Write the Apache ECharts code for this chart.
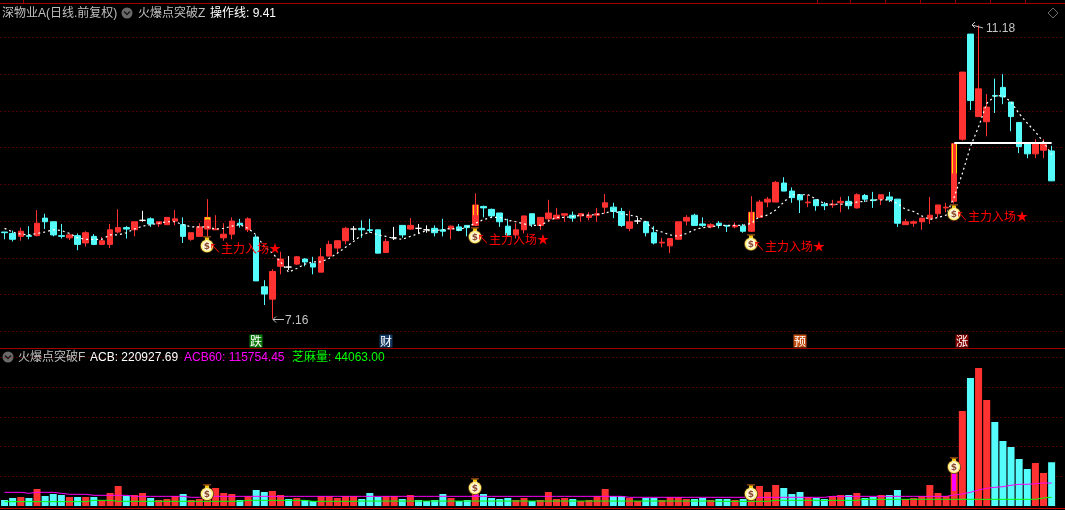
<!DOCTYPE html>
<html><head><meta charset="utf-8">
<style>html,body{margin:0;padding:0;background:#000;overflow:hidden}#c{width:1065px;height:510px}</style>
<script src="https://cdn.jsdelivr.net/npm/echarts@6/dist/echarts.min.js"></script>
</head><body><div id="c"></div>
<script>
var opens=[8.35,8.33,8.29,8.30,8.30,8.54,8.49,8.30,8.27,8.30,8.20,8.29,8.18,8.18,8.35,8.41,8.38,8.51,8.53,8.46,8.45,8.50,8.45,8.25,8.29,8.39,8.38,8.27,8.32,8.47,8.38,8.28,7.60,7.43,7.88,7.87,7.91,7.98,7.92,7.80,8.02,8.13,8.23,8.39,
8.40,8.38,8.38,8.07,8.27,8.44,8.39,8.40,8.38,8.40,8.38,8.39,8.42,8.44,8.44,8.70,8.66,8.61,8.43,8.31,8.38,8.60,8.44,8.53,8.53,8.58,8.58,8.57,8.55,8.58,8.69,8.69,8.63,8.40,8.50,8.49,8.34,8.20,8.16,8.25,8.50,8.58,8.46,
8.42,8.47,8.44,8.42,8.43,8.36,8.55,8.76,8.76,9.02,8.91,8.86,8.75,8.79,8.73,8.72,8.75,8.77,8.68,8.85,8.79,8.80,8.83,8.80,8.45,8.47,8.49,8.53,8.60,8.68,
8.77,9.62,11.06,9.93,9.86,10.22,10.33,10.13,9.85,9.56,9.42,9.47,9.46];
var closes=[8.34,8.25,8.36,8.29,8.47,8.49,8.31,8.29,8.31,8.18,8.34,8.18,8.23,8.38,8.41,8.39,8.49,8.51,8.46,8.49,8.55,8.53,8.29,8.34,8.42,8.55,8.39,8.32,8.50,8.45,8.53,7.68,7.50,7.81,7.98,7.87,8.01,7.94,7.87,8.01,8.18,8.23,8.40,8.39,
8.38,8.37,8.06,8.22,8.27,8.31,8.44,8.40,8.38,8.34,8.36,8.43,8.37,8.41,8.72,8.68,8.57,8.49,8.31,8.38,8.57,8.46,8.55,8.61,8.58,8.60,8.54,8.60,8.58,8.60,8.75,8.63,8.44,8.49,8.50,8.34,8.20,8.21,8.26,8.49,8.55,8.44,8.44,
8.45,8.44,8.43,8.44,8.36,8.62,8.76,8.80,9.03,8.91,8.82,8.79,8.76,8.71,8.71,8.73,8.77,8.71,8.86,8.80,8.78,8.86,8.79,8.47,8.49,8.49,8.54,8.58,8.72,8.69,
9.56,10.54,10.15,10.31,10.06,10.21,10.20,9.93,9.52,9.42,9.56,9.55,9.05];
var lows=[8.25,8.22,8.23,8.25,8.29,8.39,8.29,8.26,8.24,8.10,8.15,8.17,8.17,8.13,8.33,8.26,8.29,8.49,8.42,8.42,8.45,8.44,8.20,8.23,8.29,8.29,8.38,8.23,8.25,8.41,8.35,7.68,7.35,7.16,7.77,7.83,7.90,7.88,7.77,7.80,8.02,8.06,8.18,8.24,
8.27,8.34,8.06,8.07,8.24,8.27,8.38,8.33,8.34,8.29,8.29,8.25,8.36,8.29,8.43,8.55,8.54,8.42,8.30,8.26,8.33,8.42,8.38,8.49,8.53,8.49,8.49,8.49,8.51,8.49,8.60,8.54,8.42,8.36,8.46,8.29,8.18,8.14,8.06,8.25,8.44,8.44,8.42,
8.40,8.40,8.35,8.40,8.34,8.35,8.55,8.69,8.76,8.91,8.75,8.61,8.69,8.64,8.65,8.68,8.62,8.66,8.67,8.76,8.68,8.72,8.76,8.42,8.45,8.42,8.38,8.46,8.55,8.62,
8.74,9.60,10.02,9.93,9.66,9.98,10.10,9.73,9.43,9.36,9.36,9.36,9.05];
var highs=[8.35,8.37,8.41,8.43,8.65,8.60,8.49,8.46,8.33,8.33,8.36,8.32,8.28,8.46,8.66,8.43,8.49,8.64,8.55,8.49,8.55,8.65,8.55,8.34,8.47,8.80,8.58,8.47,8.55,8.53,8.55,8.31,7.69,7.84,8.08,8.02,8.02,7.99,8.01,8.13,8.23,8.24,8.42,8.43,
8.51,8.53,8.38,8.26,8.42,8.44,8.54,8.46,8.44,8.44,8.53,8.44,8.46,8.44,8.88,8.71,8.67,8.61,8.53,8.47,8.57,8.60,8.55,8.79,8.68,8.60,8.63,8.61,8.62,8.68,8.87,8.75,8.68,8.64,8.55,8.49,8.43,8.27,8.26,8.49,8.58,8.60,8.55,
8.47,8.50,8.44,8.48,8.46,8.84,8.79,8.83,9.05,9.10,8.96,8.87,8.86,8.80,8.76,8.79,8.83,8.84,8.88,8.87,8.90,8.86,8.90,8.80,8.53,8.51,8.54,8.83,8.72,8.75,
9.56,10.54,11.06,11.18,10.24,10.45,10.51,10.13,9.85,9.56,9.62,9.62,9.53];
var operLine=[8.40,8.35,8.32,8.31,8.33,8.35,8.38,8.37,8.33,8.27,8.25,8.25,8.25,8.31,8.31,8.34,8.39,8.43,8.45,8.47,8.49,8.49,8.45,8.42,8.42,8.42,8.39,8.40,8.43,8.45,8.40,8.31,8.15,8.06,7.94,7.80,7.85,7.91,7.94,7.94,7.99,8.06,8.14,8.22,
8.31,8.35,8.31,8.29,8.26,8.25,8.29,8.33,8.37,8.37,8.38,8.40,8.38,8.42,8.47,8.52,8.55,8.55,8.51,8.49,8.46,8.44,8.44,8.50,8.55,8.55,8.56,8.58,8.58,8.59,8.61,8.64,8.60,8.58,8.56,8.49,8.38,8.35,8.31,8.29,8.33,8.38,8.41,
8.42,8.44,8.44,8.44,8.44,8.47,8.56,8.58,8.65,8.76,8.86,8.86,8.86,8.80,8.74,8.73,8.73,8.74,8.76,8.77,8.79,8.79,8.79,8.74,8.66,8.63,8.57,8.52,8.55,8.58,
8.83,9.15,9.52,9.79,10.11,10.21,10.22,10.13,9.97,9.84,9.72,9.585,9.41];
var supportIdx=[117,118,119,120,121,122,123,124,125,126,127,128,129];
var supportValue=9.57;
var volumes=[30300,40400,45450,40400,85850,50500,60600,55550,45450,45450,45450,45450,30300,65650,101000,50500,55550,65650,40400,30300,35350,50500,60600,30300,35350,65650,90900,65650,60600,30300,50500,80800,70700,75750,55550,35350,40400,30300,25250,50500,50500,40400,50500,50500,
35350,65650,45450,50500,50500,35350,55550,30300,25250,30300,60600,40400,25250,30300,65650,60600,40400,35350,40400,30300,40400,25250,30300,70700,35350,40400,35350,25250,30300,50500,85850,50500,50500,40400,25250,40400,40400,30300,45450,45450,35350,35350,40400,30300,
35350,35350,30300,35350,60600,101000,70700,106050,90900,60600,70700,45450,40400,35350,50500,55550,55550,65650,40400,45450,55550,55550,80800,35350,40400,50500,106050,65650,50500,
171700,479750,646400,696900,535300,424200,328250,297950,237350,186850,217150,166650,220927.69];
var volumeUp=[0,0,1,0,1,0,0,0,1,0,1,0,1,1,1,0,1,1,0,1,1,1,0,1,1,1,1,1,1,0,1,0,0,1,1,0,1,0,0,1,1,1,1,1,
0,0,0,1,1,0,1,0,0,0,0,1,0,0,1,0,0,0,0,1,1,0,1,1,1,1,0,1,1,1,1,0,0,1,1,0,0,1,1,1,1,0,0,1,
0,0,1,0,1,1,1,1,0,0,0,1,0,0,1,1,0,1,0,0,1,0,0,1,1,1,1,1,1,
1,1,0,1,1,0,0,0,0,0,1,1,0];
var acb60=[69000,69000,69000,64000,69000,69000,69000,64000,59000,59000,59000,53900,53900,53900,53900,53900,48800,48800,48800,48800,48800,48800,48800,43800,43800,48800,48800,48800,48800,48800,48800,48800,48800,48800,48800,48800,48800,48800,48800,48800,48800,48800,48800,48800,
48800,48800,48800,48800,48800,48800,48800,48800,48800,48800,48800,48800,48800,48800,48800,48800,48800,48800,48800,48800,48800,48800,48800,48800,48800,48800,48800,48800,48800,48800,48800,48800,48800,43800,43800,43800,43800,43800,43800,43800,43800,43800,43800,43800,
43800,43800,43800,43800,43800,43800,43800,43800,43800,43800,43800,43800,43800,43800,48800,48800,48800,48800,48800,48800,48800,48800,48800,48800,48800,48800,48800,48800,48800,
55500,60600,69200,80800,89400,94400,97500,104500,109600,109600,112600,116150,115754.45];
var zhima=[21900,21900,21900,21900,21900,21900,21900,21900,21900,21900,21900,28600,28600,28600,23600,23600,23600,23600,23600,23600,23600,23600,23600,23600,23600,23600,23600,23600,23600,23600,28600,28600,28600,28600,28600,28600,28600,28600,23600,23600,23600,23600,23600,23600,
25000,25000,25000,25000,25000,25000,25000,25000,25000,25000,25000,25000,25000,25000,25000,25000,25000,25000,25000,25000,25000,25000,25000,25000,25000,25000,25000,25000,25000,25000,25000,25000,25000,25000,25000,25000,25000,25000,25000,25000,25000,25000,25000,25000,
23600,23600,23600,23600,23600,23600,23600,28600,28600,28600,28600,28600,28600,28600,28600,28600,28600,28600,33700,33700,33700,33700,33700,33700,33700,33700,33700,33700,33700,
33700,33700,33700,33700,33700,33700,33700,33700,33700,33700,33700,40400,44063];
var signalIdx=[25,58,92,117];
var signalPrice=[8.18,8.31,8.21,8.63];
var signalVol=[69000,102500,72200,207000];
var signalText='↖主力入场★';
var stripeRows=[[25,8.55,8.52],[58,8.72,8.58],[92,8.62,8.47],[117,9.56,9.15]];
var surgeRows=[[58,50500,65650],[117,75750,171700]];
var peakRows=[[33,7.16,'7.16'],[120,11.18,'11.18']];
var tagIdx=[31,47,98,118];
var tagText=['跌','财','预','涨'];
var tagFill=['#0b7a0b','#12365e','#c04c10','#800000'];
var tagPrice=6.86;

var cats=[];for(var i=0;i<131;i++)cats.push(String(i));
var RED='#ff3232',CYAN='#54fcfc',DOT=[1,3],GRIDC='#900000';
var CJK='"Noto Sans CJK SC","Liberation Sans",sans-serif';
var MIX='"Liberation Sans","Noto Sans CJK SC",sans-serif';
var candles=opens.map(function(o,i){return [o,closes[i],lows[i],highs[i]];});
var support=cats.slice(0,130).map(function(c,i){return supportIdx.indexOf(i)>=0?supportValue:'-';});
var volBars=volumes.map(function(v,i){return {value:v,itemStyle:{color:volumeUp[i]?RED:CYAN}};});

function bagShape(api,idx,val,withText){
  var p=api.coord([idx,val]);
  var kids=[
    {type:'circle',shape:{cx:0,cy:2,r:7},style:{fill:'#5e3a18'}},
    {type:'circle',shape:{cx:0,cy:2,r:6.2},style:{fill:'#ffee70'}},
    {type:'circle',shape:{cx:0,cy:2,r:4.8},style:{fill:'#fff8d8'}},
    {type:'polygon',shape:{points:[[-2,-5.5],[2,-5.5],[1.5,-3.5],[-1.5,-3.5]]},style:{fill:'#fff8d8'}},
    {type:'rect',shape:{x:-4,y:-8,width:8,height:1.5},style:{fill:'#7a3a10'}},
    {type:'polygon',shape:{points:[[-2.5,-6.5],[2.5,-6.5],[1,-4],[-1,-4]]},style:{fill:'#ffc800'}},
    {type:'text',x:0,y:2.5,style:{text:'$',fill:'#8a4a30',font:'bold 9px "DejaVu Sans"',align:'center',verticalAlign:'middle'}}
  ];
  if(withText){kids.push({type:'text',x:2,y:4,style:{text:signalText,fill:'#ff0000',font:'12px '+CJK,align:'left',verticalAlign:'middle'}});}
  return {type:'group',x:Math.round(p[0]),y:Math.round(p[1]),children:kids};
}

var option={
  backgroundColor:'#000',animation:false,
  grid:[{left:0.5,top:0.5,width:1063.3,height:330.8},{left:0.5,top:350,width:1063.3,height:156}],
  xAxis:[
    {type:'category',gridIndex:0,data:cats,show:false,boundaryGap:true},
    {type:'category',gridIndex:1,data:cats,show:false,boundaryGap:true}
  ],
  yAxis:[
    {type:'value',gridIndex:0,min:6.99,max:11.52,show:false,scale:true},
    {type:'value',gridIndex:0,min:0,max:9,interval:1,axisLine:{show:false},axisTick:{show:false},axisLabel:{show:false},
      splitLine:{show:true,showMaxLine:false,lineStyle:{color:GRIDC,type:DOT,width:1}}},
    {type:'value',gridIndex:1,min:0,max:787800,interval:150000,axisLine:{show:false},axisTick:{show:false},axisLabel:{show:false},
      splitLine:{show:true,showMinLine:false,showMaxLine:false,lineStyle:{color:GRIDC,type:DOT,width:1}}}
  ],
  series:[
    {type:'candlestick',xAxisIndex:0,yAxisIndex:0,data:candles,barWidth:6,
      itemStyle:{color:RED,color0:CYAN,borderColor:RED,borderColor0:CYAN,borderColorDoji:'#ffffff',borderWidth:1},z:2},
    {type:'custom',xAxisIndex:0,yAxisIndex:0,data:stripeRows,z:3,clip:false,
      encode:{x:0,y:[1,2]},
      renderItem:function(params,api){
        var idx=api.value(0),a=api.coord([idx,api.value(1)]),b=api.coord([idx,api.value(2)]);
        var h=b[1]-a[1],x=Math.floor(a[0]);
        var kids=[
          {type:'rect',shape:{x:x-2,y:a[1],width:1,height:h},style:{fill:'#ffd800'}},
          {type:'rect',shape:{x:x+2,y:a[1],width:1,height:h},style:{fill:'#ffd800'}}
        ];
        if(idx===25){kids.push({type:'rect',shape:{x:x-2,y:a[1],width:5,height:2},style:{fill:'#ffd800'}});}
        return {type:'group',children:kids};
      }},
    {type:'line',xAxisIndex:0,yAxisIndex:0,data:operLine,showSymbol:false,symbol:'none',z:4,
      lineStyle:{color:'#ffffff',width:1.2,type:[2,3]}},
    {type:'line',xAxisIndex:0,yAxisIndex:0,data:support,showSymbol:false,symbol:'none',z:4,connectNulls:false,
      lineStyle:{color:'#ffffff',width:2}},
    {type:'custom',xAxisIndex:0,yAxisIndex:0,data:signalIdx.map(function(v,i){return [v,signalPrice[i]];}),z:6,clip:false,
      encode:{x:0,y:1},
      renderItem:function(params,api){return bagShape(api,api.value(0),api.value(1),true);}},
    {type:'custom',xAxisIndex:0,yAxisIndex:0,data:peakRows,z:6,clip:false,
      encode:{x:0,y:1},
      renderItem:function(params,api){
        var row=peakRows[params.dataIndex],p=api.coord([row[0],row[1]]),kids;
        var col='#c4c4c4';
        if(row[0]===33){
          kids=[
            {type:'line',shape:{x1:1,y1:0.5,x2:12,y2:0.5},style:{stroke:col,lineWidth:1}},
            {type:'polyline',shape:{points:[[4,-2.5],[1,0.5],[4,3.5]]},style:{stroke:col,fill:'none',lineWidth:1}},
            {type:'text',x:13,y:1.5,style:{text:row[2],fill:col,font:'12px "Liberation Sans"',align:'left',verticalAlign:'middle'}}
          ];
        }else{
          kids=[
            {type:'line',shape:{x1:-7,y1:0,x2:4,y2:3},style:{stroke:col,lineWidth:1}},
            {type:'polyline',shape:{points:[[-4,-3],[-7,0],[-4,3]]},style:{stroke:col,fill:'none',lineWidth:1}},
            {type:'text',x:7,y:4,style:{text:row[2],fill:col,font:'12px "Liberation Sans"',align:'left',verticalAlign:'middle'}}
          ];
        }
        return {type:'group',x:Math.round(p[0]),y:Math.round(p[1]),children:kids};
      }},
    {type:'custom',xAxisIndex:0,yAxisIndex:0,data:tagIdx.map(function(v){return [v,tagPrice];}),z:6,clip:false,
      encode:{x:0,y:1},
      renderItem:function(params,api){
        var i=params.dataIndex,p=api.coord([api.value(0),api.value(1)]);
        return {type:'group',x:Math.round(p[0]),y:Math.round(p[1]),children:[
          {type:'rect',shape:{x:-6.5,y:-6.5,width:13,height:13},style:{fill:tagFill[i]}},
          {type:'text',x:0,y:0.5,style:{text:tagText[i],fill:'#ffffff',font:'12px '+CJK,align:'center',verticalAlign:'middle'}}
        ]};
      }},
    {type:'bar',xAxisIndex:1,yAxisIndex:2,data:volBars,barWidth:7,z:2,
      markLine:{silent:true,symbol:'none',label:{show:false},animation:false,lineStyle:{color:'#ff00ff',width:4,type:'solid'},
        data:surgeRows.map(function(r){return [{coord:[String(r[0]),r[1]]},{coord:[String(r[0]),r[2]]}];})}},
    {type:'line',xAxisIndex:1,yAxisIndex:2,data:acb60,showSymbol:false,symbol:'none',z:4,lineStyle:{color:'#ff00ff',width:1}},
    {type:'line',xAxisIndex:1,yAxisIndex:2,data:zhima,showSymbol:false,symbol:'none',z:4,lineStyle:{color:'#00ff00',width:1}},
    {type:'custom',xAxisIndex:1,yAxisIndex:2,data:signalIdx.map(function(v,i){return [v,signalVol[i]];}),z:6,clip:false,
      encode:{x:0,y:1},
      renderItem:function(params,api){return bagShape(api,api.value(0),api.value(1),false);}}
  ],
  graphic:[]
};

function txt(x,y,s,c,f){return {type:'text',x:x,y:y,z:20,style:{text:s,fill:c,font:'12px '+(f||MIX),align:'left',verticalAlign:'middle'}};}
function icon(cx,cy){return {type:'group',z:20,x:cx,y:cy,children:[
  {type:'circle',shape:{cx:0,cy:0,r:5.5},style:{fill:'#6a6a6a'}},
  {type:'polyline',shape:{points:[[-3,-1.5],[0,1.5],[3,-1.5]]},style:{stroke:'#1a1a1a',fill:'none',lineWidth:1.5}}
]};}
var g=[
  {type:'rect',z:19,shape:{x:0,y:3,width:1065,height:1},style:{fill:'#a00000'}},
  {type:'rect',z:19,shape:{x:0,y:348,width:1065,height:1},style:{fill:'#a00000'}},
  {type:'rect',z:19,shape:{x:0,y:508,width:1065,height:1},style:{fill:'#c80000'}},
  txt(2,14,'深物业A(日线.前复权)','#c0c0c0'),icon(127,13),
  txt(138,14,'火爆点突破Z','#c0c0c0'),txt(210,14,'操作线: 9.41','#ffffff'),
  icon(8,357),txt(18,358,'火爆点突破F','#c0c0c0'),
  txt(90,358,'ACB: 220927.69','#ffffff'),txt(184,358,'ACB60: 115754.45','#ff00ff'),txt(292,358,'芝麻量: 44063.00','#00ff00'),
  {type:'polygon',z:20,shape:{points:[[1053,8],[1058,13],[1053,18],[1048,13]]},style:{fill:'none',stroke:'#6a6a6a',lineWidth:1}}
];
[23,817,850,885,920,955,990,1025].forEach(function(x){g.push({type:'rect',z:19,shape:{x:x,y:0,width:1,height:3},style:{fill:'#a00000'}});});
option.graphic=g;

var chart=echarts.init(document.getElementById('c'),null,{renderer:'canvas'});
chart.setOption(option);
</script></body></html>
